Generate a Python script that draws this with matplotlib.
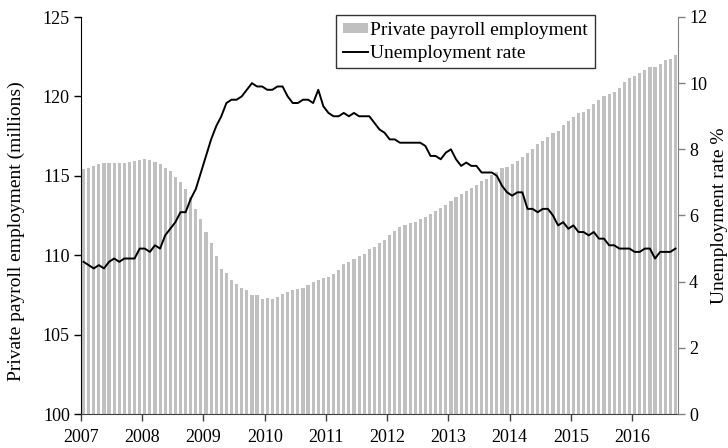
import numpy as np
import matplotlib
matplotlib.use('Agg')
import matplotlib.pyplot as plt
from matplotlib.patches import Patch
from matplotlib.lines import Line2D

#%% Data, monthly Jan 2007 - Sep 2016
years = ['2007', '2008', '2009', '2010', '2011', '2012', '2013', '2014', '2015', '2016']

# private payroll employment, millions
employment = [
    115.41, 115.52, 115.64, 115.72, 115.81, 115.83, 115.83, 115.81, 115.83, 115.87, 115.93, 115.99,
    116.04, 115.98, 115.85, 115.77, 115.52, 115.31, 114.92, 114.61, 114.19, 113.67, 112.93, 112.28,
    111.46, 110.77, 109.95, 109.13, 108.88, 108.42, 108.17, 107.92, 107.83, 107.49, 107.49, 107.27,
    107.29, 107.26, 107.35, 107.54, 107.66, 107.79, 107.87, 107.95, 108.10, 108.34, 108.46, 108.56,
    108.61, 108.82, 109.07, 109.43, 109.60, 109.78, 109.93, 110.10, 110.39, 110.54, 110.77, 110.94,
    111.30, 111.55, 111.80, 111.93, 112.03, 112.12, 112.26, 112.43, 112.62, 112.76, 112.96, 113.19,
    113.39, 113.67, 113.85, 114.02, 114.26, 114.45, 114.65, 114.82, 115.03, 115.24, 115.49, 115.55,
    115.72, 115.91, 116.18, 116.44, 116.69, 116.98, 117.17, 117.44, 117.70, 117.85, 118.19, 118.44,
    118.68, 118.94, 119.02, 119.23, 119.50, 119.75, 120.01, 120.13, 120.28, 120.55, 120.89, 121.14,
    121.29, 121.47, 121.69, 121.85, 121.83, 122.02, 122.27, 122.36, 122.61,
]

# unemployment rate, %
unemployment = [
    4.6, 4.5, 4.4, 4.5, 4.4, 4.6, 4.7, 4.6, 4.7, 4.7, 4.7, 5.0,
    5.0, 4.9, 5.1, 5.0, 5.4, 5.6, 5.8, 6.1, 6.1, 6.5, 6.8, 7.3,
    7.8, 8.3, 8.7, 9.0, 9.4, 9.5, 9.5, 9.6, 9.8, 10.0, 9.9, 9.9,
    9.8, 9.8, 9.9, 9.9, 9.6, 9.4, 9.4, 9.5, 9.5, 9.4, 9.8, 9.3,
    9.1, 9.0, 9.0, 9.1, 9.0, 9.1, 9.0, 9.0, 9.0, 8.8, 8.6, 8.5,
    8.3, 8.3, 8.2, 8.2, 8.2, 8.2, 8.2, 8.1, 7.8, 7.8, 7.7, 7.9,
    8.0, 7.7, 7.5, 7.6, 7.5, 7.5, 7.3, 7.3, 7.3, 7.2, 6.9, 6.7,
    6.6, 6.7, 6.7, 6.2, 6.2, 6.1, 6.2, 6.2, 6.0, 5.7, 5.8, 5.6,
    5.7, 5.5, 5.5, 5.4, 5.5, 5.3, 5.3, 5.1, 5.1, 5.0, 5.0, 5.0,
    4.9, 4.9, 5.0, 5.0, 4.7, 4.9, 4.9, 4.9, 5.0,
]

#%% Plot
plt.rcParams['font.family'] = ['Liberation Serif', 'DejaVu Serif']
plt.rcParams['font.size'] = 13

n = len(employment)
x = np.arange(n) + 0.5

fig = plt.figure(figsize=(7.28, 4.48), dpi=100)
ax = fig.add_axes([81/728, 1 - 414/448, 597/728, 397/448])

bar_col = '#c0c0c0'
ax.bar(x, employment, width=0.62, color=bar_col, linewidth=0)
ax.set_xlim(0, n)
ax.set_ylim(100, 125)
ax.set_yticks(np.arange(100, 126, 5))
ax.set_xticks(np.arange(0, n, 12))
ax.set_xticklabels(years)
ax.set_ylabel('Private payroll employment (millions)', fontsize=14)
ax.yaxis.set_label_coords(-0.094, 0.46)

ax2 = ax.twinx()
ax2.plot(x, unemployment, color='black', lw=1.4)
ax2.set_ylim(0, 12)
ax2.set_yticks(np.arange(0, 13, 2))
ax2.set_ylabel('Unemployment rate %', fontsize=14)
ax2.yaxis.set_label_coords(1.055, 0.5)

for a in (ax, ax2):
    a.spines['top'].set_visible(False)
    a.tick_params(direction='out', length=5, width=1, pad=3)
ax.spines['right'].set_visible(False)
ax2.spines['left'].set_visible(False)
ax2.spines['bottom'].set_visible(False)
ax.spines['left'].set_color('black')
ax.spines['bottom'].set_color('#404040')
ax2.spines['right'].set_color('#808080')
ax.tick_params(axis='x', pad=6, colors='#404040', labelcolor='black')
ax2.tick_params(axis='y', colors='#808080', labelcolor='black')

handles = [Patch(facecolor=bar_col, edgecolor='none', label='Private payroll employment'),
           Line2D([0], [0], color='black', lw=1.4, label='Unemployment rate')]
leg = ax2.legend(handles=handles, loc='upper left', fontsize=14,
                 bbox_to_anchor=(336/728, 1 - 15/448), bbox_transform=fig.transFigure,
                 frameon=True, fancybox=False, handlelength=1.3, handleheight=0.45,
                 handletextpad=0.1, borderpad=0.35, labelspacing=0.3, borderaxespad=0)
leg.get_frame().set_edgecolor('black')
leg.get_frame().set_linewidth(1)

plt.savefig('out.png', dpi=100)
